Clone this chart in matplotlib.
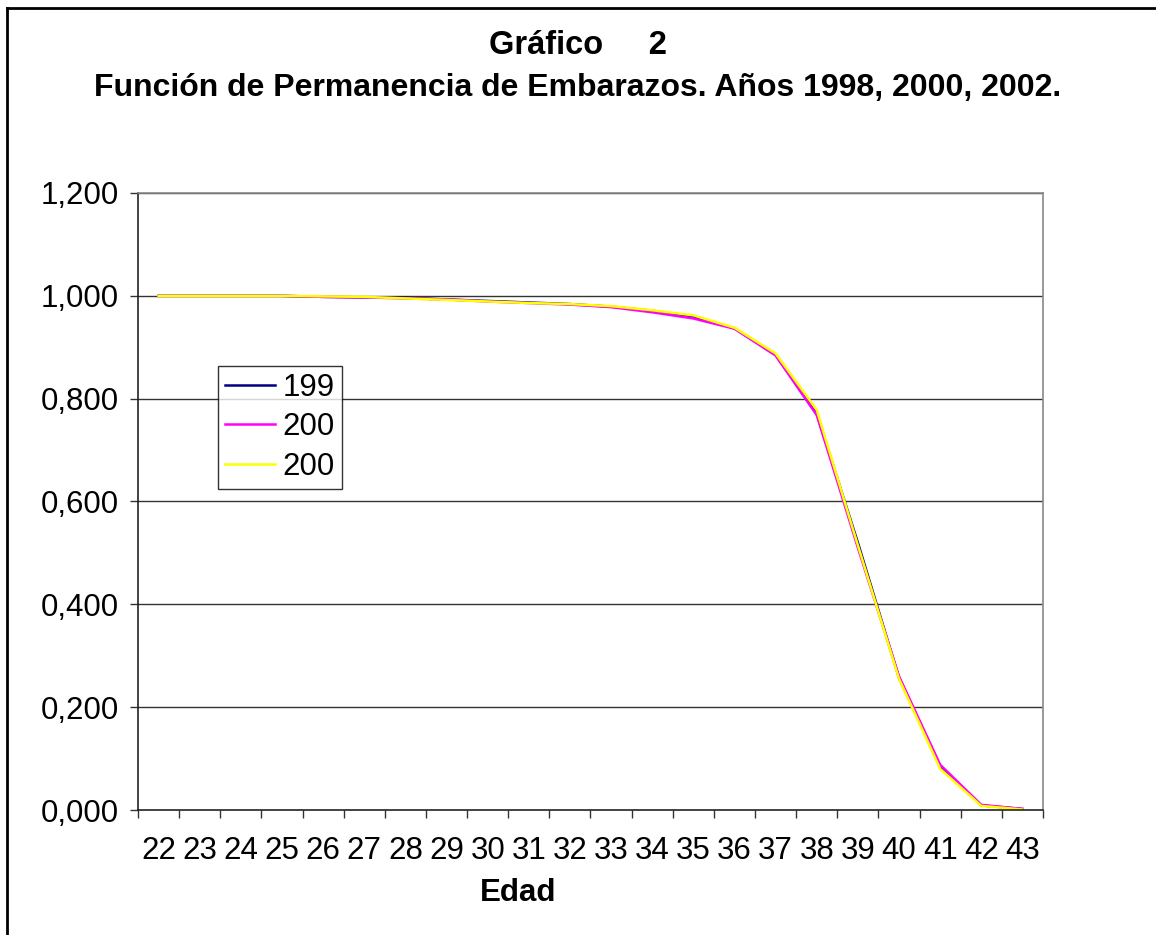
import matplotlib
matplotlib.use("Agg")
import matplotlib.pyplot as plt
from matplotlib.lines import Line2D

plt.rcParams['font.family'] = ['Liberation Sans', 'DejaVu Sans']

ages = [str(a) for a in range(22, 44)]
s1998 = [1.000, 1.000, 1.000, 1.000, 0.998, 0.997, 0.996, 0.993, 0.990, 0.987, 0.984, 0.979,
         0.971, 0.960, 0.937, 0.885, 0.770, 0.520, 0.257, 0.085, 0.009, 0.002]
s2000 = [1.000, 1.000, 1.000, 1.000, 0.998, 0.997, 0.995, 0.993, 0.989, 0.986, 0.983, 0.978,
         0.968, 0.956, 0.936, 0.884, 0.768, 0.510, 0.260, 0.088, 0.010, 0.002]
s2002 = [1.000, 1.000, 1.000, 1.000, 0.999, 0.998, 0.995, 0.992, 0.989, 0.986, 0.984, 0.980,
         0.972, 0.962, 0.938, 0.888, 0.778, 0.515, 0.255, 0.080, 0.008, 0.001]
series_labels = ['199', '200', '200']
series_colors = ['#000080', '#FF00FF', '#FFFF00']
yticks = [0.0, 0.2, 0.4, 0.6, 0.8, 1.0, 1.2]
ytick_labels = ['0,000', '0,200', '0,400', '0,600', '0,800', '1,000', '1,200']

W, H = 1156, 935
fig = plt.figure(figsize=(W / 100, H / 100), dpi=100)

L, R, T, B = 138, 1043, 193, 810
ax = fig.add_axes([L / W, 1 - B / H, (R - L) / W, (B - T) / H])

x = list(range(len(ages)))
for vals, c, lab in zip([s1998, s2000, s2002], series_colors, series_labels):
    ax.plot(x, vals, color=c, lw=1.8, label=lab, solid_joinstyle='miter')

FS = 22.5
ax.set_xlim(-0.5, len(ages) - 0.5)
ax.set_ylim(0, 1.2)
ax.set_yticks(yticks)
ax.set_yticklabels(ytick_labels, fontsize=FS)
ax.set_xticks(x)
ax.set_xticklabels(ages, fontsize=FS)
ax.set_xticks([i - 0.5 for i in range(len(ages) + 1)], minor=True)
ax.tick_params(axis='x', which='major', length=0, pad=19)
ax.tick_params(axis='x', which='minor', length=6, width=1, color='#333333', direction='out')
ax.tick_params(axis='y', length=6, width=1, color='#333333', direction='out', pad=8)

for y in yticks[1:]:
    ax.axhline(y, color='#333333', lw=1.0, zorder=0)

for side in ['left', 'bottom']:
    ax.spines[side].set_color('#222222')
    ax.spines[side].set_linewidth(1.2)
for side in ['top', 'right']:
    ax.spines[side].set_color('#888888')
    ax.spines[side].set_linewidth(1.2)

handles = [Line2D([0], [0], color=c, lw=1.8) for c in series_colors]
leg = ax.legend(handles, series_labels, loc='upper left',
                bbox_to_anchor=((218 - L) / (R - L), 1 - (366 - T) / (B - T)),
                fontsize=FS, frameon=True, fancybox=False, handlelength=1.6,
                handletextpad=0.25, borderpad=0.22, labelspacing=0.3, borderaxespad=0)
leg.get_frame().set_edgecolor('#000000')
leg.get_frame().set_linewidth(1.0)

fig.text(578 / W, 1 - 45 / H, 'Gráfico     2', ha='center', va='center',
         fontsize=23.5, fontweight='bold')
fig.text(578 / W, 1 - 88 / H, 'Función de Permanencia de Embarazos. Años 1998, 2000, 2002.',
         ha='center', va='center', fontsize=23, fontweight='bold')
fig.text(518 / W, 1 - 893 / H, 'Edad', ha='center', va='center',
         fontsize=22.5, fontweight='bold')

fig.add_artist(Line2D([7 / W, 7 / W], [0, 1 - 8 / H], transform=fig.transFigure,
                      color='black', lw=2))
fig.add_artist(Line2D([7 / W, 1], [1 - 8 / H, 1 - 8 / H], transform=fig.transFigure,
                      color='black', lw=2))

fig.savefig('out.png', dpi=100)
